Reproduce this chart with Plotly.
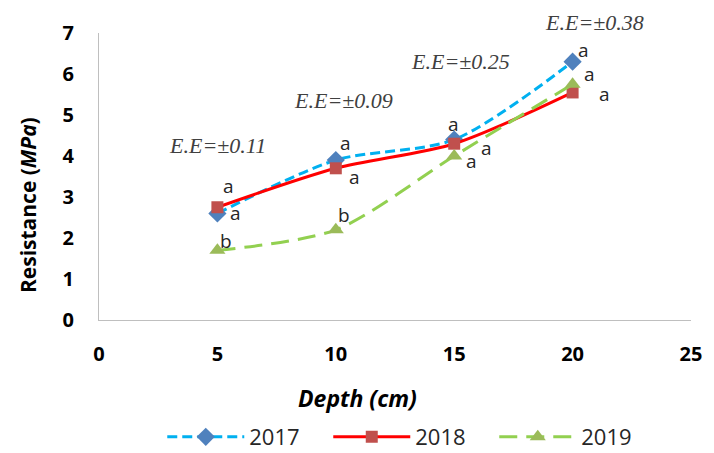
import plotly.graph_objects as go

depth = [5, 10, 15, 20]
r2017 = [2.6, 3.9, 4.4, 6.3]
r2018 = [2.75, 3.7, 4.3, 5.55]
r2019 = [1.7, 2.2, 4.0, 5.75]
ee_labels = ["E.E=±0.11", "E.E=±0.09", "E.E=±0.25", "E.E=±0.38"]
letters2017 = ["a", "a", "a", "a"]
letters2018 = ["a", "a", "a", "a"]
letters2019 = ["b", "b", "a", "a"]
x_ticks = [0, 5, 10, 15, 20, 25]
y_ticks = [0, 1, 2, 3, 4, 5, 6, 7]

FONT = "Open Sans"
fig = go.Figure()
fig.add_trace(go.Scatter(x=depth, y=r2017, name="2017", mode="lines+markers",
                         line=dict(color="#00B0F0", width=3, dash="10px,5px", shape="spline", smoothing=0.8),
                         marker=dict(symbol="diamond", size=14, color="#4F81BD")))
fig.add_trace(go.Scatter(x=depth, y=r2018, name="2018", mode="lines+markers",
                         line=dict(color="#FF0000", width=3, shape="spline", smoothing=0.8),
                         marker=dict(symbol="square", size=12, color="#C0504D")))
fig.add_trace(go.Scatter(x=depth, y=r2019, name="2019", mode="lines+markers",
                         line=dict(color="#92D050", width=3, dash="18px,9px", shape="spline", smoothing=0.8),
                         marker=dict(symbol="triangle-up", size=14, color="#9BBB59")))

ann = []
letter_font = dict(family=FONT, size=19, color="#262626")
# letter offsets (pixels) per point
off2017 = [(18, 0), (10, 17), (-1, 16), (11, 12)]
off2018 = [(11, 21), (19, -9), (32, -4), (32, -2)]
off2019 = [(9, 9), (8, 15), (17, -5), (17, 10)]
for i, x in enumerate(depth):
    dx, dy = off2017[i]
    ann.append(dict(x=x, y=r2017[i], text=letters2017[i], showarrow=False, xshift=dx, yshift=dy, font=letter_font))
    dx, dy = off2018[i]
    ann.append(dict(x=x, y=r2018[i], text=letters2018[i], showarrow=False, xshift=dx, yshift=dy, font=letter_font))
    dx, dy = off2019[i]
    ann.append(dict(x=x, y=r2019[i], text=letters2019[i], showarrow=False, xshift=dx, yshift=dy, font=letter_font))

ee_shift = [(0, 68), (8, 60), (6, 78), (22, 39)]
for i, x in enumerate(depth):
    ann.append(dict(x=x, y=r2017[i], text="<i>" + ee_labels[i] + "</i>", showarrow=False,
                    xshift=ee_shift[i][0], yshift=ee_shift[i][1],
                    font=dict(family="Liberation Serif", size=22, color="#404040")))

ann.append(dict(x=(361 - 99) / 601, y=(320 - 398) / 287, xref="paper", yref="paper",
                xanchor="center", yanchor="middle",
                text="<b><i>Depth (cm)</i></b>", showarrow=False,
                font=dict(family=FONT, size=23, color="#000000")))
ann.append(dict(x=(27 - 99) / 601, y=(320 - 205) / 287, xref="paper", yref="paper",
                xanchor="center", yanchor="middle",
                text="<b>Resistance (<i>MPa</i>)</b>", showarrow=False, textangle=-90,
                font=dict(family=FONT, size=21, color="#000000")))
fig.update_layout(annotations=ann)

fig.update_layout(
    width=714, height=453,
    margin=dict(l=99, r=14, t=33, b=133),
    plot_bgcolor="white", paper_bgcolor="white",
    showlegend=True,
    legend=dict(orientation="h", x=0.576, xanchor="center", xref="container",
                y=(453 - 437) / 453, yanchor="middle", yref="container",
                font=dict(family=FONT, size=22, color="#262626"),
                itemwidth=77, entrywidth=74, bgcolor="rgba(0,0,0,0)"),
    xaxis=dict(range=[0, 25], tickvals=x_ticks, showgrid=False, zeroline=False,
               showline=True, linecolor="#BFBFBF", linewidth=1, ticks="",
               ticklabelstandoff=16,
               tickfont=dict(family=FONT, size=20, color="#000000", weight="bold")),
    yaxis=dict(range=[0, 7], tickvals=y_ticks, showgrid=False, zeroline=False,
               showline=True, linecolor="#BFBFBF", linewidth=1, ticks="",
               ticklabelstandoff=20,
               tickfont=dict(family=FONT, size=20, color="#000000", weight="bold")),
)

fig.write_html("out.html")
